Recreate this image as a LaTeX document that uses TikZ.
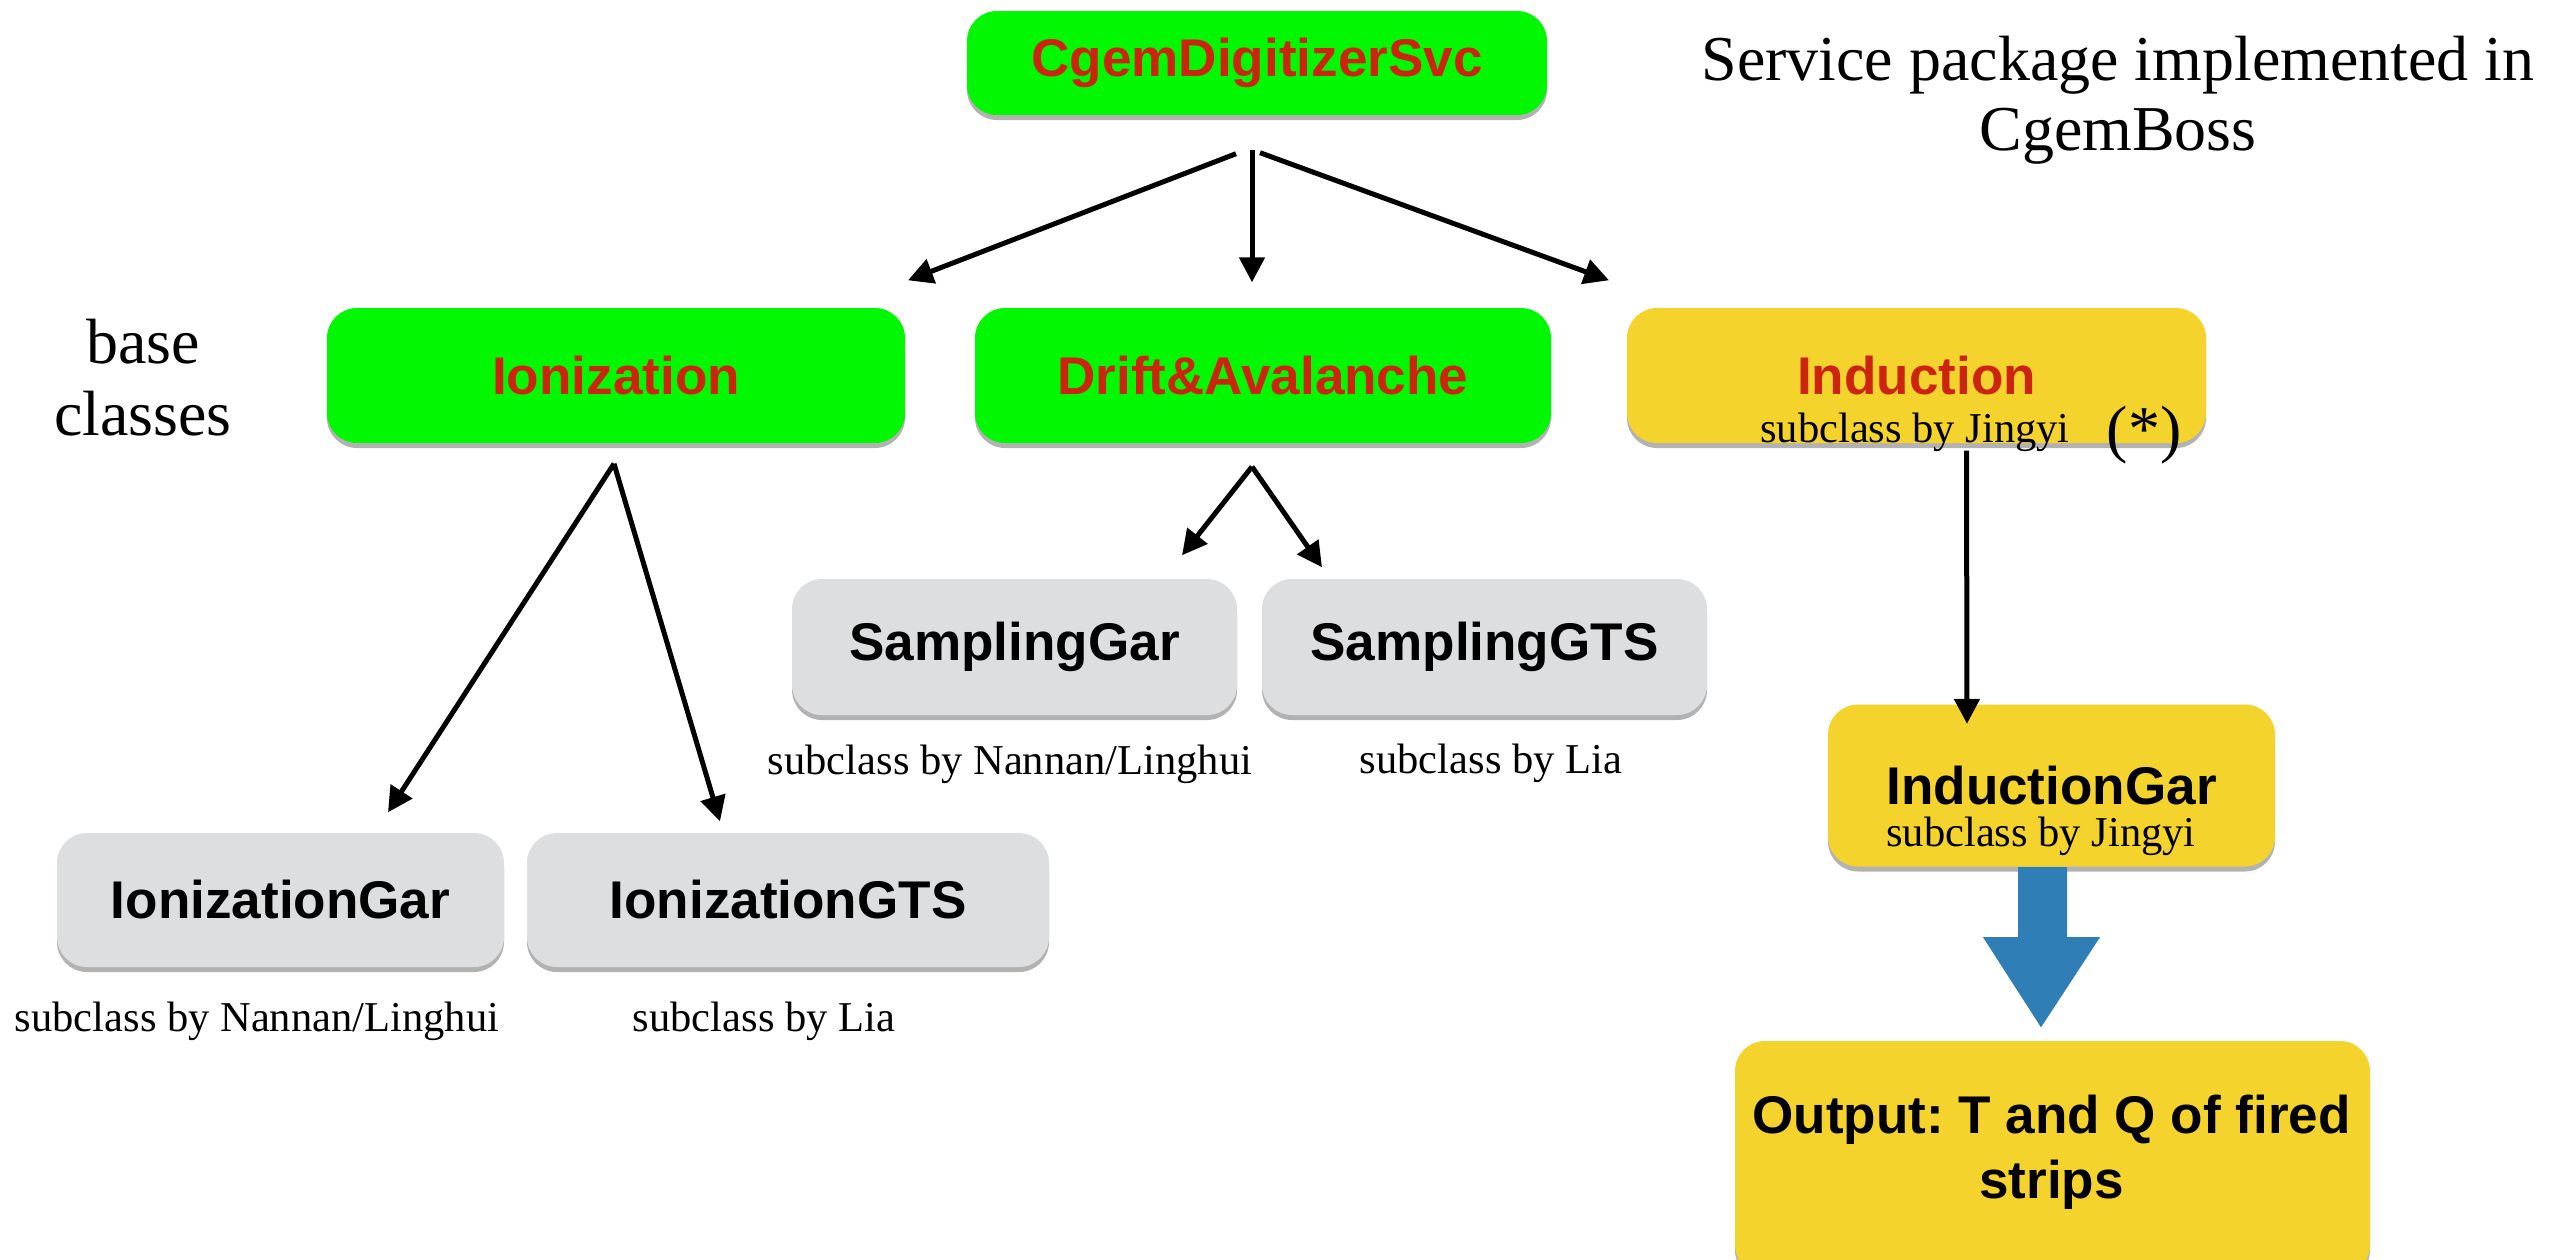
\documentclass[tikz,border=0pt]{standalone}
\usepackage{fontspec}
\setmainfont{Liberation Serif}
\newfontfamily\hv{Liberation Sans}
\usetikzlibrary{shadows,calc,arrows.meta}
\definecolor{boxgreen}{RGB}{2,248,2}
\definecolor{boxred}{RGB}{204,36,14}
\definecolor{boxyellow}{RGB}{245,211,45}
\definecolor{boxgray}{RGB}{221,222,224}
\definecolor{arrowblue}{RGB}{47,127,182}
\frenchspacing
\tikzset{
  box/.style={rounded corners=3mm, inner sep=0pt, minimum height=13.5mm,
    font=\hv\bfseries\fontsize{15.1}{18}\selectfont,
    drop shadow={shadow xshift=0mm, shadow yshift=-0.5mm, opacity=0.3, fill=black}},
  gbox/.style={box, fill=boxgreen, text=boxred},
  ybox/.style={box, fill=boxyellow, text=black},
  graybox/.style={box, fill=boxgray, text=black},
  sub/.style={inner sep=0pt, font=\fontsize{12.1}{14}\selectfont},
  big/.style={inner sep=0pt, font=\fontsize{18.2}{20.5}\selectfont, align=center},
  arr/.style={-{Triangle[length=2.5mm,width=2.5mm]}, line width=0.5mm},
}
\begin{document}
\begin{tikzpicture}[x=0.1mm,y=-0.1mm]
\useasboundingbox (0,0) rectangle (2566,1259);
\clip (0,0) rectangle (2566,1259);

% top
\node[gbox, minimum width=58mm, minimum height=10.4mm] (svc) at (1257,63) {CgemDigitizerSvc};
\node[big, font=\fontsize{18.2}{19.8}\selectfont] (note) at (2118,100) {Service package implemented in\\CgemBoss};

% base classes
\node[big] (base) at (143,378) {base\\classes};
\node[gbox, minimum width=57.8mm] (ion) at (616,375.5) {Ionization};
\node[gbox, minimum width=57.6mm] (drift) at (1263,375.5) {Drift\&Avalanche};
\node[ybox, minimum width=57.9mm, text=boxred] (ind) at (1916.5,375.5) {Induction};
\node[sub] (indsub) at (1915,432) {subclass by Jingyi};
\node[big] (star) at (2144,435) {(*)};

% subclasses
\node[graybox, minimum width=44.5mm, minimum height=13.6mm] (sgar) at (1014.5,647) {SamplingGar};
\node[graybox, minimum width=44.5mm, minimum height=13.6mm] (sgts) at (1484.5,647) {SamplingGTS};
\node[sub] (sgarsub) at (1010,764) {subclass by Nannan/Linghui};
\node[sub] (sgtssub) at (1491,763) {subclass by Lia};

\node[graybox, minimum width=44.7mm, minimum height=13.4mm] (igar) at (280.5,900) {IonizationGar};
\node[graybox, minimum width=52.2mm, minimum height=13.4mm] (igts) at (788,900) {IonizationGTS};
\node[sub] (igarsub) at (257,1021) {subclass by Nannan/Linghui};
\node[sub] (igtssub) at (764,1021) {subclass by Lia};

\node[ybox, minimum width=44.7mm, minimum height=16.2mm] (indgar) at (2051.5,785.5) {InductionGar};
\node[sub] (indgarsub) at (2041,836) {subclass by Jingyi};

\node[ybox, minimum width=63.5mm, minimum height=23.4mm] (out) at (2052.5,1158) {};
\node[inner sep=0pt, align=center, font=\hv\bfseries\fontsize{15.1}{18.5}\selectfont] (outtxt) at (2051.5,1152) {Output: T and Q of fired\\strips};

% connectors
\draw[arr] ($(svc.south)+(-21,38)$) -- ($(ion.north)+(292,-27)$);
\draw[arr] ($(svc.south)+(-5,34)$) -- ($(drift.north)+(-11,-25)$);
\draw[arr] ($(svc.south)+(3,37)$) -- ($(ind.north)+(-307.5,-27)$);

\draw[arr] ($(ion.south)+(-2,20)$) -- ($(igar.north)+(107.5,-20)$);
\draw[arr] ($(ion.south)+(-2,20)$) -- ($(igts.north)+(-68,-11)$);

\draw[arr] ($(drift.south)+(-11,23)$) -- ($(sgar.north)+(167.5,-23)$);
\draw[arr] ($(drift.south)+(-11,23)$) -- ($(sgts.north)+(-162.5,-11)$);

\draw[arr] ($(ind.south)+(50,7)$) -- ($(indgar.north)+(-84.5,20)$);

% big blue arrow
\fill[arrowblue] ($(indgar.south)+(-33.5,0)$) -- ($(indgar.south)+(15.5,0)$)
  -- ($(indgar.south)+(15.5,70)$) -- ($(indgar.south)+(48.5,70)$)
  -- ($(out.north)+(-11.5,-13)$)
  -- ($(indgar.south)+(-68.5,70)$) -- ($(indgar.south)+(-33.5,70)$) -- cycle;
\end{tikzpicture}
\end{document}
